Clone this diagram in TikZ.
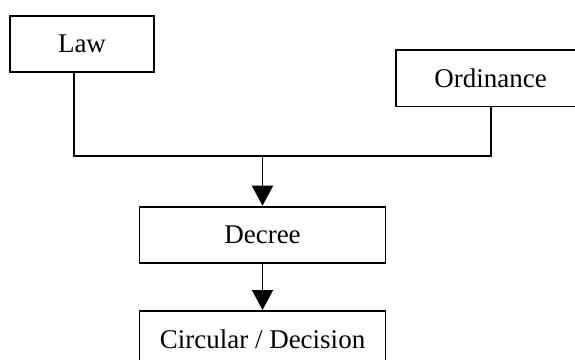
\documentclass[tikz,border=0pt]{standalone}
\usepackage{fontspec}
\setmainfont{Liberation Serif}
\usetikzlibrary{positioning,arrows.meta}

\tikzset{
    doc/.style={draw, line width=1.8pt, minimum width=246pt, minimum height=56.5pt,
        inner sep=0pt, font=\fontsize{27}{32}\selectfont},
    link/.style={line width=1.8pt},
    flow/.style={link, -{Triangle[length=20pt,width=21pt]}},
}

\begin{document}
\begin{tikzpicture}[x=1pt,y=-1pt]
        \useasboundingbox (0,0) rectangle (575,359);
        \node[doc, minimum width=144pt, minimum height=56pt] (law) at (82,43.7) {Law};
        \node[doc, minimum width=190pt] (ordinance) at (490.7,78.3) {Ordinance};
        \coordinate (join) at (262.5,155.7);
        \coordinate (lawfoot) at ([xshift=-8pt]law.south);
        \node[doc, below=50pt of join] (decree) {Decree};
        \node[doc, below=46pt of decree] (circular) {Circular / Decision};
        \draw[link] (lawfoot) |- (join) -| (ordinance.south);
        \draw[flow] (join) -- (decree);
        \draw[flow] (decree) -- (circular);
    \end{tikzpicture}
\end{document}
